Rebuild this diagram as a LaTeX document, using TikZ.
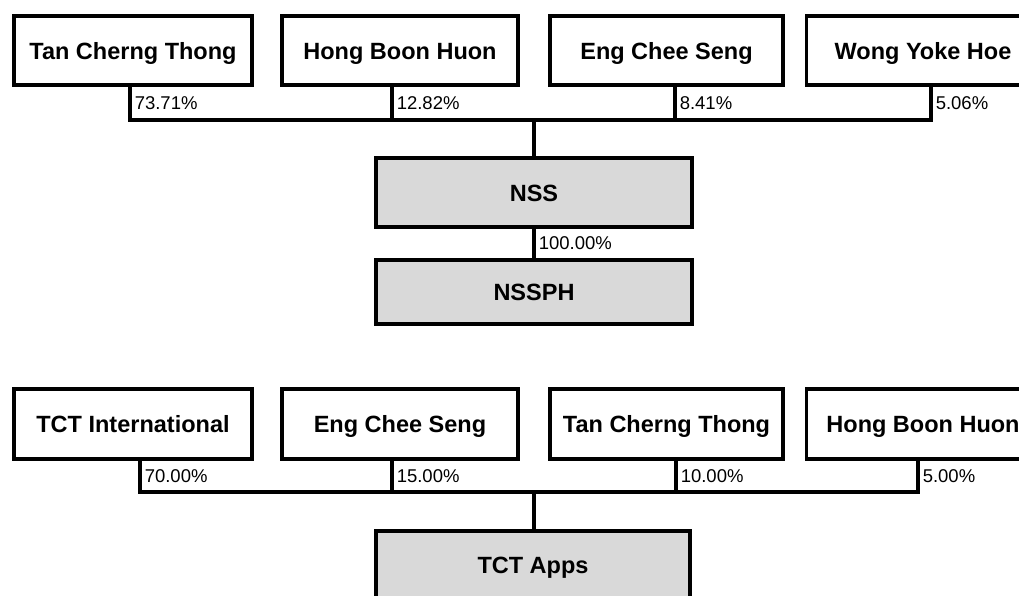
\documentclass[tikz,border=0pt]{standalone}
\usepackage{fontspec}
\setmainfont{Liberation Sans}
\usetikzlibrary{positioning}

\begin{document}
\begin{tikzpicture}[x=1pt,y=-1pt,
  holder/.style={draw, line width=3.5pt, fill=white, minimum height=69pt, text height=17pt, text depth=0pt, font=\bfseries\fontsize{23.5}{28}\selectfont},
  entity/.style={holder, fill=gray!30},
  share/.style={font=\fontsize{18.5}{22}\selectfont, inner sep=3pt, right},
  link/.style={line width=3.5pt}]

\useasboundingbox (0,0) rectangle (1019,595);
\clip (0,0) rectangle (1019,595);

% NSS
\node[holder, minimum width=238pt] (tan) at (133,50.5) {Tan Cherng Thong};
\node[holder, minimum width=236pt] (hong) at (400,50.5) {Hong Boon Huon};
\node[holder, minimum width=233pt] (eng) at (666.5,50.5) {Eng Chee Seng};
\node[holder, minimum width=233pt] (wong) at (923,50.5) {Wong Yoke Hoe};
\node[entity, minimum width=316pt] (nss) at (534,192.5) {NSS};
\node[entity, minimum width=316pt, minimum height=64pt] (nssph) at (534,292) {NSSPH};
\coordinate (nssbus) at (534,120);

\draw[link] ([xshift=-3pt]tan.south) |- node[share, pos=0.25] (tanpct) {73.71\%} (nssbus);
\draw[link] ([xshift=-8pt]hong.south) |- node[share, pos=0.25] (hongpct) {12.82\%} (nssbus);
\draw[link] ([xshift=8.5pt]eng.south) |- node[share, pos=0.25] (engpct) {8.41\%} (nssbus);
\draw[link] ([xshift=8pt]wong.south) |- node[share, pos=0.25] (wongpct) {5.06\%} (nssbus);
\draw[link] (nssbus) -- (nss.north);
\draw[link] (nss) -- node[share] (nsspct) {100.00\%} (nssph);

% TCT Apps
\node[holder, minimum width=238pt, minimum height=70pt] (tcti) at (133,424) {TCT International};
\node[holder, minimum width=236pt, minimum height=70pt] (eng2) at (400,424) {Eng Chee Seng};
\node[holder, minimum width=233pt, minimum height=70pt] (tan2) at (666.5,424) {Tan Cherng Thong};
\node[holder, minimum width=233pt, minimum height=70pt] (hong2) at (923,424) {Hong Boon Huon};
\node[entity, minimum width=314pt, minimum height=68pt] (apps) at (533,565) {TCT Apps};
\coordinate (appsbus) at (534,492);

\draw[link] ([xshift=7pt]tcti.south) |- node[share, pos=0.25] (tctipct) {70.00\%} (appsbus);
\draw[link] ([xshift=-8pt]eng2.south) |- node[share, pos=0.25] (eng2pct) {15.00\%} (appsbus);
\draw[link] ([xshift=9.5pt]tan2.south) |- node[share, pos=0.25] (tan2pct) {10.00\%} (appsbus);
\draw[link] ([xshift=-5pt]hong2.south) |- node[share, pos=0.25] (hong2pct) {5.00\%} (appsbus);
\draw[link] (appsbus) -- (apps.north -| appsbus);

\end{tikzpicture}
\end{document}
